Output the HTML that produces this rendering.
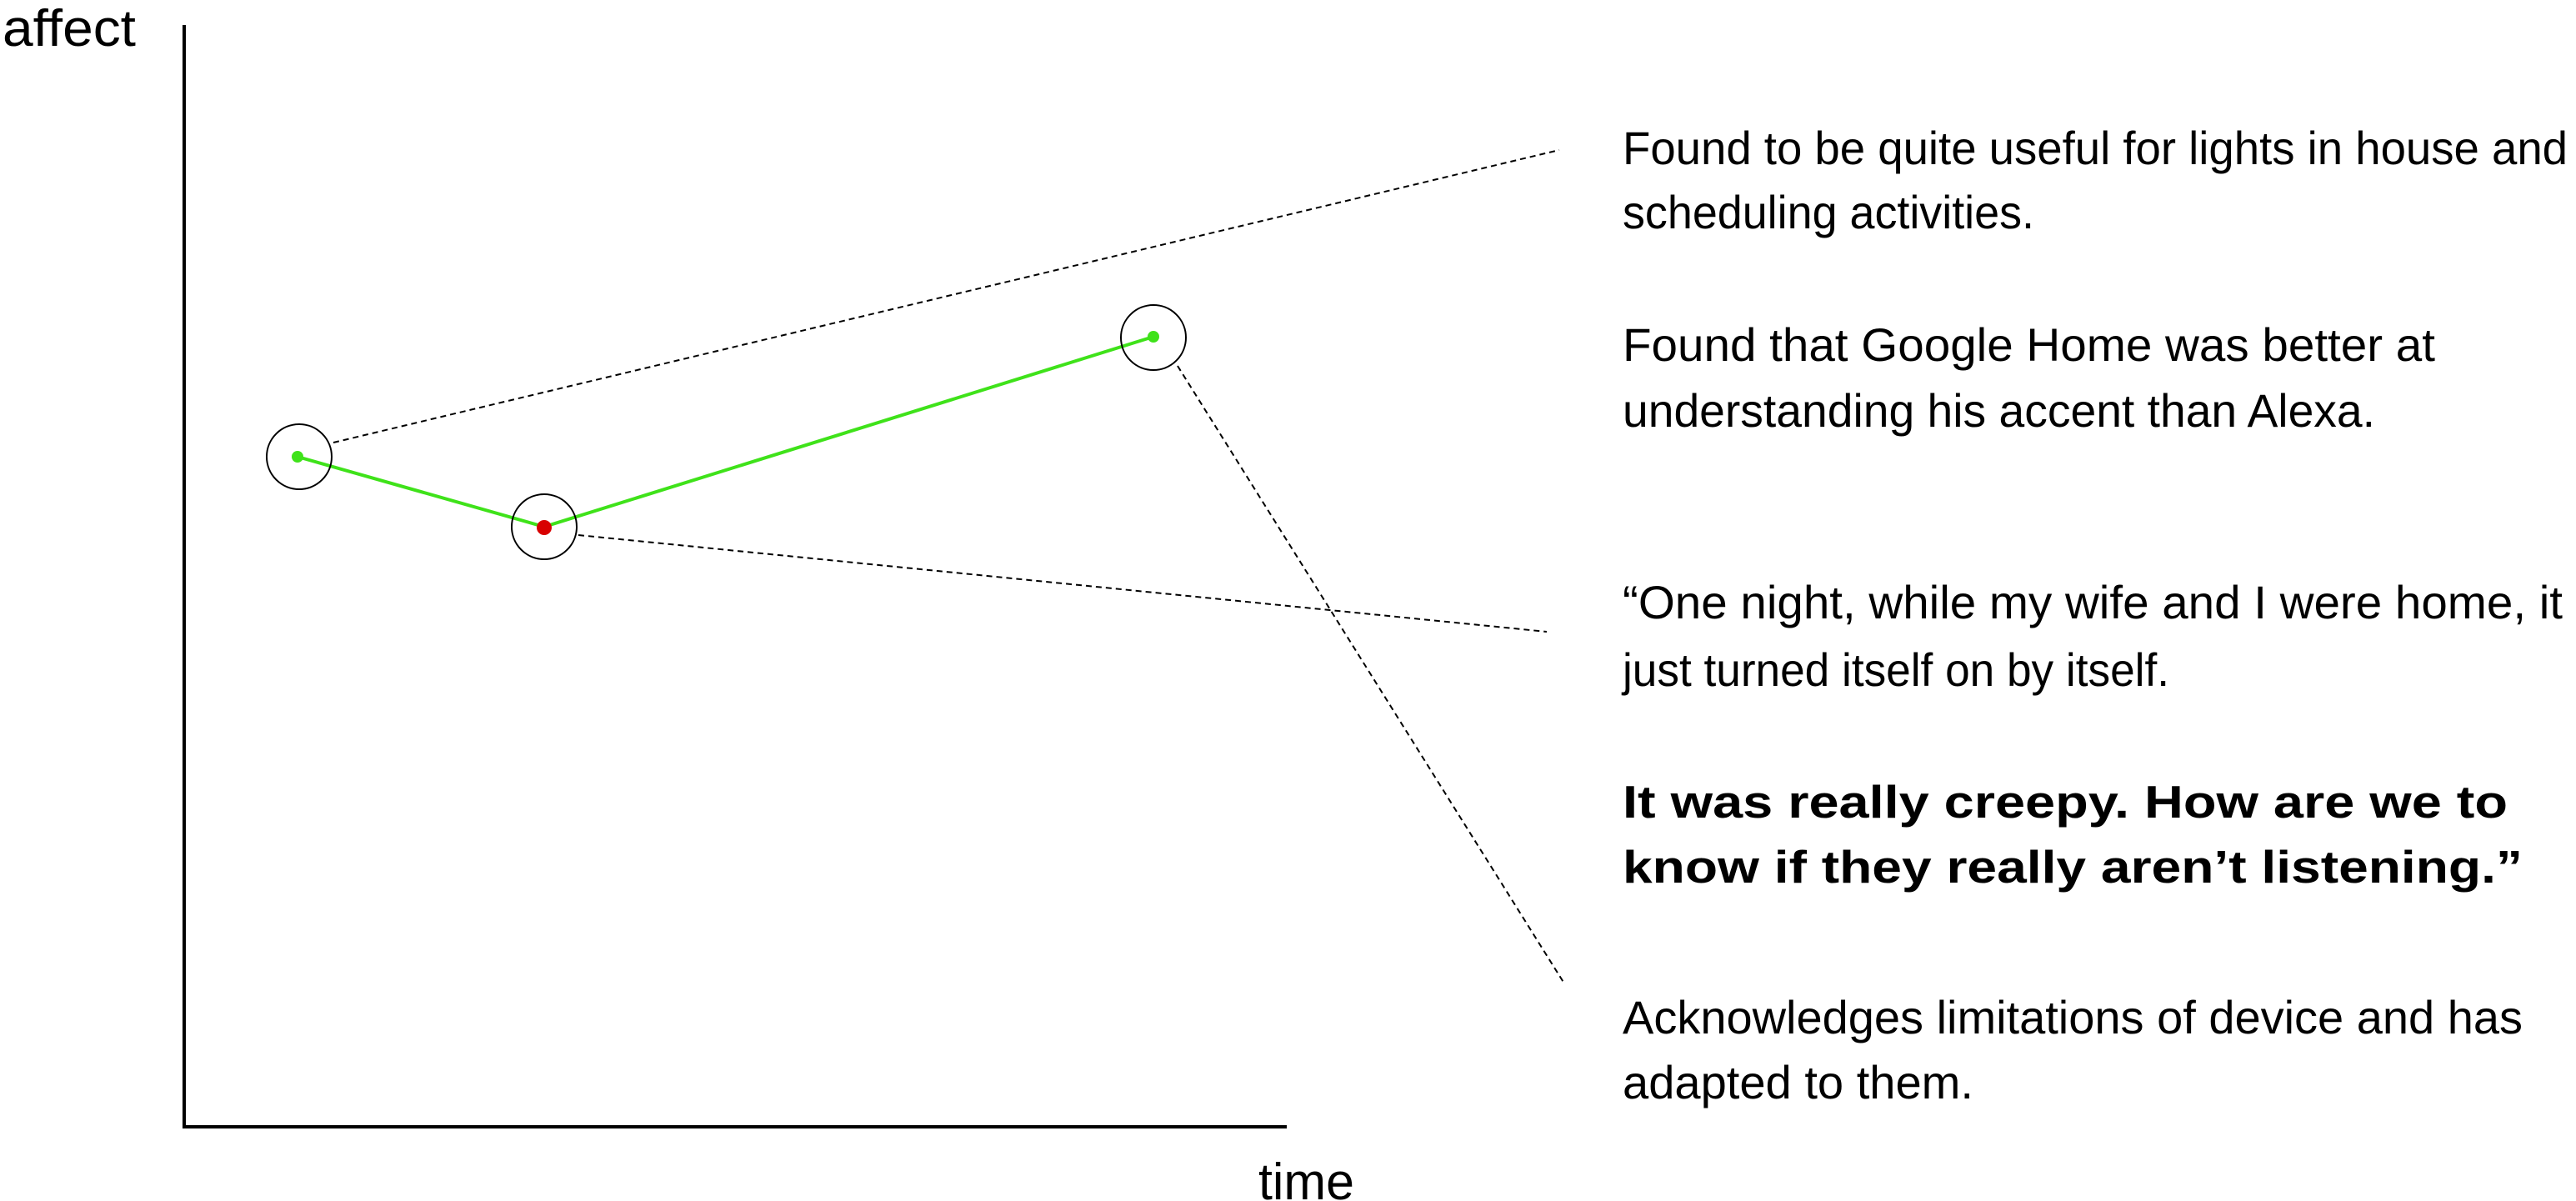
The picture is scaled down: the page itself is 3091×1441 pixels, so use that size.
<!DOCTYPE html>
<html><head><meta charset="utf-8"><style>
html,body{margin:0;padding:0;background:#fff;}
svg{display:block;}
text{font-family:"Liberation Sans",sans-serif;fill:#000;}
.t{font-size:56px;font-weight:300;}
.b{font-size:55px;font-weight:bold;}
</style></head><body>
<svg width="3091" height="1441" viewBox="0 0 3091 1441" xmlns="http://www.w3.org/2000/svg">
<line x1="221" y1="30" x2="221" y2="1354" stroke="#000" stroke-width="4"/>
<line x1="219" y1="1352" x2="1544" y2="1352" stroke="#000" stroke-width="4"/>
<text x="3" y="55" font-size="62" textLength="160" lengthAdjust="spacingAndGlyphs">affect</text>
<text x="1510" y="1439" font-size="62" textLength="115" lengthAdjust="spacingAndGlyphs">time</text>
<g stroke="#000" stroke-width="2" stroke-dasharray="7,5" fill="none">
<line x1="400" y1="531" x2="1871" y2="180"/>
<line x1="694" y1="642" x2="1856" y2="758"/>
<line x1="1413" y1="439" x2="1877" y2="1180"/>
</g>
<polyline points="357,548 653,632 1384,404" fill="none" stroke="#3fe21a" stroke-width="4"/>
<g fill="none" stroke="#000" stroke-width="2">
<ellipse cx="359" cy="548" rx="39" ry="39"/>
<ellipse cx="653" cy="632" rx="39" ry="39"/>
<ellipse cx="1384" cy="405" rx="39" ry="39"/>
</g>
<circle cx="357" cy="548" r="7" fill="#3fe21a"/>
<circle cx="1384" cy="404" r="7" fill="#3fe21a"/>
<circle cx="653" cy="633" r="9" fill="#d80000"/>
<g class="t">
<text x="1947" y="197" textLength="1134" lengthAdjust="spacingAndGlyphs">Found to be quite useful for lights in house and</text>
<text x="1947" y="274" textLength="494" lengthAdjust="spacingAndGlyphs">scheduling activities.</text>
<text x="1947" y="433" textLength="975" lengthAdjust="spacingAndGlyphs">Found that Google Home was better at</text>
<text x="1947" y="512" textLength="903" lengthAdjust="spacingAndGlyphs">understanding his accent than Alexa.</text>
<text x="1947" y="742" textLength="1128" lengthAdjust="spacingAndGlyphs">“One night, while my wife and I were home, it</text>
<text x="1947" y="823" textLength="656" lengthAdjust="spacingAndGlyphs">just turned itself on by itself.</text>
<text x="1947" y="1240" textLength="1080" lengthAdjust="spacingAndGlyphs">Acknowledges limitations of device and has</text>
<text x="1947" y="1318" textLength="421" lengthAdjust="spacingAndGlyphs">adapted to them.</text>
</g>
<g class="b">
<text x="1947" y="981" textLength="1062" lengthAdjust="spacingAndGlyphs">It was really creepy. How are we to</text>
<text x="1947" y="1059" textLength="1080" lengthAdjust="spacingAndGlyphs">know if they really aren’t listening.”</text>
</g>
</svg>
</body></html>
